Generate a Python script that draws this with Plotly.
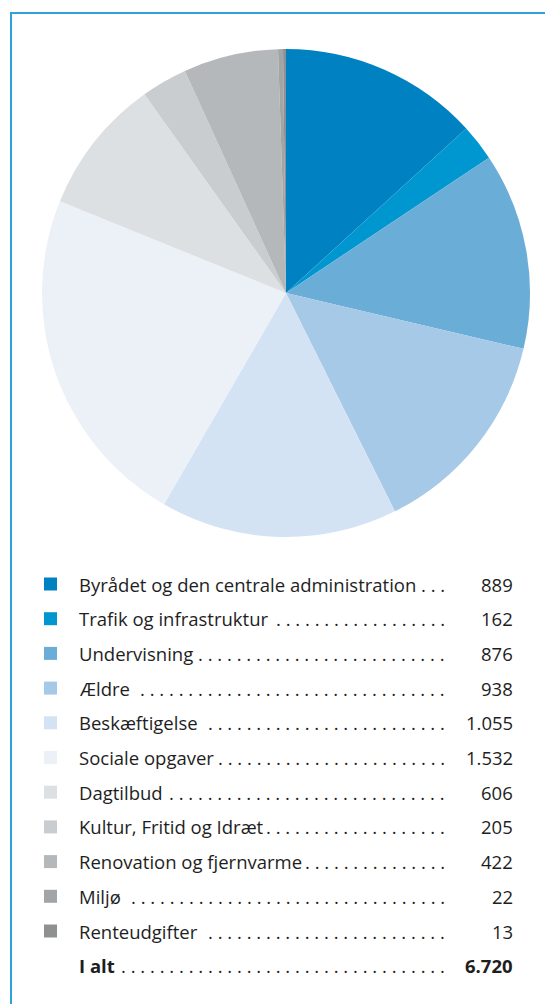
import math
import plotly.graph_objects as go

categories = [
    "Byrådet og den centrale administration",
    "Trafik og infrastruktur",
    "Undervisning",
    "Ældre",
    "Beskæftigelse",
    "Sociale opgaver",
    "Dagtilbud",
    "Kultur, Fritid og Idræt",
    "Renovation og fjernvarme",
    "Miljø",
    "Renteudgifter",
]
values = [889, 162, 876, 938, 1055, 1532, 606, 205, 422, 22, 13]
total_label = "I alt"
total_value = 6720
colors = [
    "#0081C1", "#0097D1", "#6AAED8", "#A5C9E7", "#D3E3F4", "#ECF1F7",
    "#DDE0E3", "#CACDCF", "#B5B8BB", "#A2A5A7", "#8E9092",
]

W, H = 545, 1004
FONT = "Open Sans"
FS = 18.5
TXT = "#1e1e1e"

# approximate Open Sans advance widths (em) for leader-dot sizing
CW = {
    " ": 0.26, ".": 0.27, ",": 0.25,
    "a": 0.556, "b": 0.613, "c": 0.48, "d": 0.613, "e": 0.561, "f": 0.336,
    "g": 0.547, "h": 0.614, "i": 0.253, "j": 0.253, "k": 0.525, "l": 0.253,
    "m": 0.931, "n": 0.614, "o": 0.602, "p": 0.613, "q": 0.613, "r": 0.409,
    "s": 0.477, "t": 0.353, "u": 0.614, "v": 0.5, "w": 0.774, "x": 0.524,
    "y": 0.5, "z": 0.468, "å": 0.556, "æ": 0.874, "ø": 0.602,
    "B": 0.648, "T": 0.556, "U": 0.729, "Æ": 0.929, "S": 0.55, "D": 0.737,
    "K": 0.604, "R": 0.622, "M": 0.895, "I": 0.28, "F": 0.522,
}


def text_w(s, bold=False):
    w = sum(CW.get(c, 0.6) for c in s) * FS
    return w * (1.07 if bold else 1.0)


def fmt(v):
    return f"{v:,}".replace(",", ".")


fig = go.Figure()

# Pie
cx, cy, r = 286, 293, 244
fig.add_trace(go.Pie(
    labels=categories, values=values, sort=False, direction="clockwise",
    rotation=0, textinfo="none", hole=0,
    marker=dict(colors=colors, line=dict(width=0)),
    domain=dict(x=[(cx - r) / W, (cx + r) / W], y=[1 - (cy + r) / H, 1 - (cy - r) / H]),
    showlegend=False,
))

# Legend rows
y0, dy = 584, 34.7
rows_y = [y0 + i * dy for i in range(len(categories) + 1)]

fig.add_trace(go.Scatter(
    x=[50.5] * len(categories), y=rows_y[:len(categories)], mode="markers",
    marker=dict(symbol="square", size=13, color=colors, line=dict(width=0)),
    hoverinfo="skip", showlegend=False,
))

annotations = []
labels_all = categories + [total_label]
vals_all = values + [total_value]
LX, DX, VX = 77, 447, 515
pitch = (CW["."] + CW[" "]) * FS
for i, (lab, val) in enumerate(zip(labels_all, vals_all)):
    bold = i == len(categories)
    yy = rows_y[i]
    free = DX - (LX + text_w(lab, bold) + 2)
    n = max(0, int(math.floor((free + CW[" "] * FS) / pitch)))
    if n > 0:
        annotations.append(dict(
            x=DX, y=yy, xref="x", yref="y", text=" ".join(["."] * n), showarrow=False,
            xanchor="right", yanchor="middle", font=dict(family=FONT, size=FS, color=TXT),
        ))
    t = f"<b>{lab}</b>" if bold else lab
    annotations.append(dict(
        x=LX, y=yy, xref="x", yref="y", text=t, showarrow=False,
        xanchor="left", yanchor="middle",
        font=dict(family=FONT, size=FS, color=TXT),
    ))
    v = f"<b>{fmt(val)}</b>" if bold else fmt(val)
    annotations.append(dict(
        x=VX, y=yy, xref="x", yref="y", text=v, showarrow=False,
        xanchor="right", yanchor="middle",
        font=dict(family=FONT, size=FS, color=TXT),
    ))

fig.update_layout(
    width=W, height=H, margin=dict(l=0, r=0, t=0, b=0),
    paper_bgcolor="white", plot_bgcolor="white",
    xaxis=dict(range=[0, W], visible=False, domain=[0, 1], fixedrange=True),
    yaxis=dict(range=[H, 0], visible=False, domain=[0, 1], fixedrange=True),
    annotations=annotations,
    shapes=[
        dict(type="line", xref="x", yref="y", x0=11, x1=11, y0=12, y1=H,
             line=dict(color="#2EA3DA", width=2)),
        dict(type="line", xref="x", yref="y", x0=10, x1=W, y0=13, y1=13,
             line=dict(color="#2EA3DA", width=2)),
    ],
    showlegend=False,
)

fig.write_html(
    "out.html",
    config={"displayModeBar": False},
    post_script="document.body.style.margin='0';document.body.style.overflow='hidden';",
)
